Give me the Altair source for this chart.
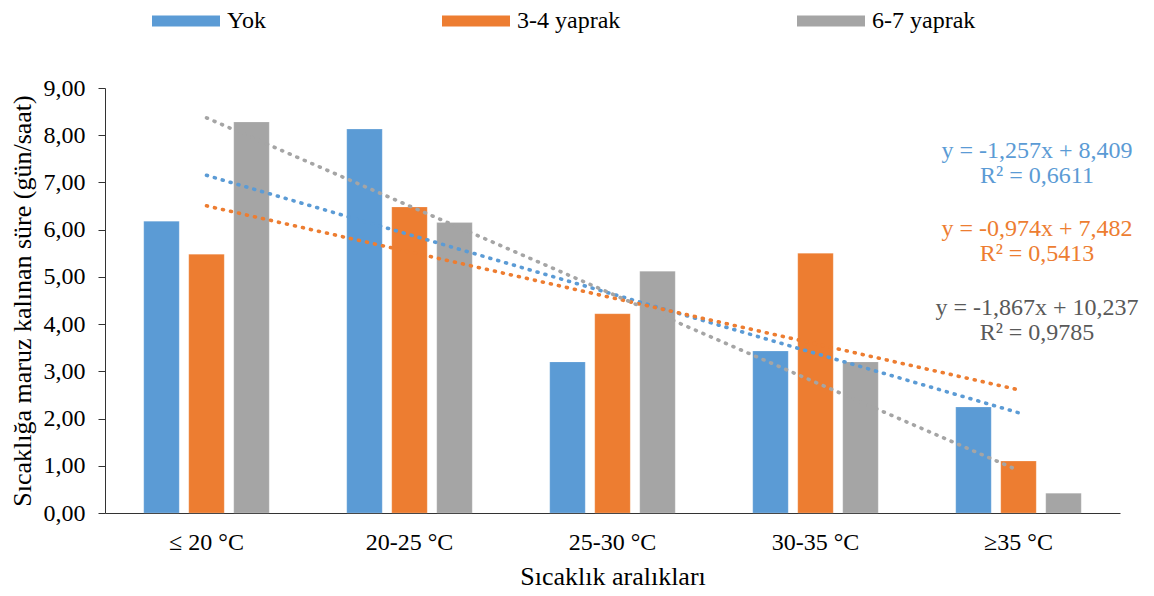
import altair as alt
import pandas as pd

categories = ["≤ 20 °C", "20-25 °C", "25-30 °C", "30-35 °C", "≥35 °C"]
series = ["Yok", "3-4 yaprak", "6-7 yaprak"]
yok = [6.18, 8.13, 3.20, 3.43, 2.245]
yaprak34 = [5.48, 6.48, 4.22, 5.50, 1.10]
yaprak67 = [8.28, 6.15, 5.12, 3.20, 0.42]
colors = ["#5B9BD5", "#ED7D31", "#A5A5A5"]
eq_colors = ["#5B9BD5", "#ED7D31", "#595959"]
equations = [
    "y = -1,257x + 8,409\nR² = 0,6611",
    "y = -0,974x + 7,482\nR² = 0,5413",
    "y = -1,867x + 10,237\nR² = 0,9785",
]
y_ticks = [0, 1, 2, 3, 4, 5, 6, 7, 8, 9]

rows = []
for s, vals in zip(series, [yok, yaprak34, yaprak67]):
    for i, (c, v) in enumerate(zip(categories, vals)):
        rows.append({"cat": c, "idx": i + 1, "series": s, "value": v})
df = pd.DataFrame(rows)

FONT = "Liberation Serif"
W, H = 1015, 425

yscale = alt.Scale(domain=[0, 9], nice=False)
yaxis = alt.Axis(
    values=y_ticks,
    labelExpr="replace(format(datum.value, '.2f'), '.', ',')",
    title="Sıcaklığa maruz kalınan süre (gün/saat)",
    titleFontSize=26, titleFontWeight="normal", titleFont=FONT, titleColor="#000",
    titlePadding=8,
    labelFont=FONT, labelFontSize=24, labelColor="#000", labelPadding=13,
    tickSize=7, tickColor="#333", domainColor="#333", grid=False,
)

bars = alt.Chart(df).mark_bar(stroke="white", strokeOpacity=0.4, strokeWidth=0.5).encode(
    x=alt.X("cat:N", sort=categories,
            scale=alt.Scale(paddingInner=0, paddingOuter=0),
            axis=alt.Axis(title="Sıcaklık aralıkları", labelAngle=0,
                          labelFont=FONT, labelFontSize=24, labelColor="#000",
                          labelPadding=17, ticks=False, domainColor="#333",
                          titleFont=FONT, titleFontSize=26, titleFontWeight="normal",
                          titleColor="#000", titlePadding=9)),
    xOffset=alt.XOffset("series:N", sort=series,
                        scale=alt.Scale(paddingInner=0.211, paddingOuter=0.861)),
    y=alt.Y("value:Q", scale=yscale, axis=yaxis),
    color=alt.Color("series:N", sort=series,
                    scale=alt.Scale(domain=series, range=colors),
                    legend=alt.Legend(
                        orient="none", legendX=47, legendY=-101, direction="horizontal",
                        title=None, columns=3, columnPadding=176, padding=0,
                        symbolType="M-1,-0.162H1V0.162H-1Z", symbolSize=4624,
                        symbolStrokeWidth=0, symbolOpacity=1,
                        labelFont=FONT, labelFontSize=24, labelFontWeight="normal",
                        labelColor="#000", labelOffset=7, labelLimit=300)),
)

trend_layers = []
for k, (s, col) in enumerate(zip(series, colors)):
    if k == 0:
        xaxis = alt.Axis(values=[0.5, 1.5, 2.5, 3.5, 4.5, 5.5], labels=False,
                         domain=False, tickSize=7, tickColor="#333", grid=False,
                         title=None)
    else:
        xaxis = None
    trend_layers.append(
        alt.Chart(df).transform_filter(alt.datum.series == s).transform_regression(
            "idx", "value", extent=[1, 5]
        ).mark_line(strokeWidth=3.6, strokeDash=[1, 7.2], strokeCap="round",
                    color=col).encode(
            x=alt.X("idx:Q", scale=alt.Scale(domain=[0.5, 5.5], nice=False, zero=False),
                    axis=xaxis),
            y=alt.Y("value:Q", scale=yscale),
        )
    )
trend = alt.layer(*trend_layers)

eq_y = [62.5, 140.5, 219.5]
texts = []
for eq, col, yy in zip(equations, eq_colors, eq_y):
    texts.append(
        alt.Chart(pd.DataFrame({"t": [eq]})).mark_text(
            font=FONT, fontSize=24, color=col, align="center", baseline="middle",
            lineBreak="\n", lineHeight=25,
        ).encode(x=alt.value(932), y=alt.value(yy), text="t:N")
    )

chart = alt.layer(bars, trend, *texts).resolve_scale(
    x="independent"
).properties(
    width=W, height=H,
    autosize="none",
    padding={"left": 97, "top": 80, "right": 20, "bottom": 78},
).configure(font=FONT).configure_view(stroke=None).configure_axis(
    labelFont=FONT, titleFont=FONT
).configure_legend(labelFont=FONT, titleFont=FONT).configure_text(font=FONT)

chart.save("out.html", embed_options={"renderer": "svg", "actions": False})
